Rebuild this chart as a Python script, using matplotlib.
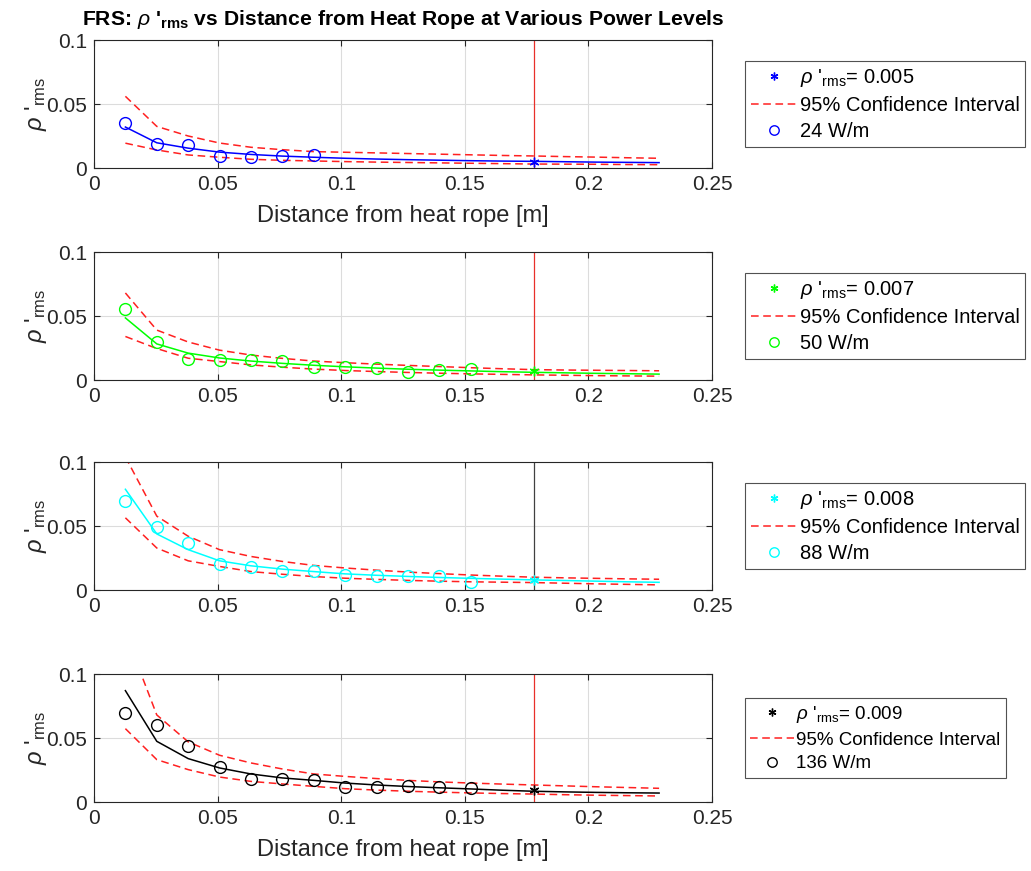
import matplotlib
matplotlib.use('Agg')
import matplotlib.pyplot as plt
import numpy as np

plt.rcParams['font.family'] = ['Liberation Sans', 'DejaVu Sans']
plt.rcParams['mathtext.fontset'] = 'custom'
plt.rcParams['mathtext.rm'] = 'Liberation Sans'
plt.rcParams['mathtext.it'] = 'Liberation Sans:italic'
plt.rcParams['mathtext.bf'] = 'Liberation Sans:bold'

# distance from heat rope [m], half-inch steps
x_fit = [0.0127 * k for k in range(1, 19)]
x_probe = 0.1778

powers = ['24 W/m', '50 W/m', '88 W/m', '136 W/m']
colors = ['#0000ff', '#00ff00', '#00ffff', '#000000']
vline_colors = ['#e8302a', '#e8302a', '#404040', '#e8302a']
rms_at_probe = [0.005, 0.007, 0.008, 0.009]

# measured rho'_rms (open circles)
meas_24 = [0.0353, 0.0186, 0.0178, 0.0095, 0.0084, 0.0097, 0.0105]
meas_50 = [0.0556, 0.0300, 0.0164, 0.0160, 0.0155, 0.0150, 0.0105, 0.0100,
           0.0093, 0.0063, 0.0076, 0.0088]
meas_88 = [0.0696, 0.0493, 0.0365, 0.0205, 0.0176, 0.0152, 0.0150, 0.0118,
           0.0113, 0.0113, 0.0110, 0.0066]
meas_136 = [0.0695, 0.0602, 0.0435, 0.0271, 0.0182, 0.0177, 0.0169, 0.0115,
            0.0120, 0.0128, 0.0115, 0.0107]

# fitted curves
fit_24 = [0.0320, 0.0197, 0.0155, 0.0124, 0.0106, 0.0093, 0.0084, 0.0076, 0.0070,
          0.0065, 0.0061, 0.0057, 0.0054, 0.0052, 0.0049, 0.0046, 0.0044, 0.0042]
fit_50 = [0.0485, 0.0282, 0.0210, 0.0172, 0.0148, 0.0130, 0.0115, 0.0103, 0.0093,
          0.0084, 0.0077, 0.0071, 0.0065, 0.0060, 0.0056, 0.0052, 0.0049, 0.0046]
fit_88 = [0.0787, 0.0438, 0.0315, 0.0228, 0.0189, 0.0163, 0.0144, 0.0126, 0.0115,
          0.0106, 0.0098, 0.0091, 0.0085, 0.0079, 0.0074, 0.0069, 0.0064, 0.0060]
fit_136 = [0.0870, 0.0474, 0.0339, 0.0266, 0.0219, 0.0188, 0.0169, 0.0148, 0.0133,
           0.0121, 0.0111, 0.0102, 0.0092, 0.0084, 0.0079, 0.0075, 0.0072, 0.0070]

# 95% confidence bounds
up_24 = [0.0560, 0.0325, 0.0250, 0.0195, 0.0162, 0.0143, 0.0128, 0.0123, 0.0118,
         0.0113, 0.0108, 0.0103, 0.0098, 0.0094, 0.0089, 0.0085, 0.0080, 0.0076]
lo_24 = [0.0194, 0.0141, 0.0102, 0.0084, 0.0068, 0.0060, 0.0055, 0.0050, 0.0046,
         0.0043, 0.0040, 0.0037, 0.0034, 0.0031, 0.0030, 0.0029, 0.0027, 0.0026]
up_50 = [0.0680, 0.0390, 0.0297, 0.0233, 0.0195, 0.0169, 0.0148, 0.0135, 0.0124,
         0.0114, 0.0105, 0.0096, 0.0088, 0.0081, 0.0078, 0.0076, 0.0074, 0.0072]
lo_50 = [0.0340, 0.0246, 0.0170, 0.0144, 0.0118, 0.0100, 0.0085, 0.0074, 0.0066,
         0.0059, 0.0053, 0.0048, 0.0044, 0.0040, 0.0037, 0.0034, 0.0032, 0.0030]
up_88 = [0.1040, 0.0577, 0.0420, 0.0315, 0.0262, 0.0223, 0.0192, 0.0172, 0.0155,
         0.0140, 0.0128, 0.0117, 0.0108, 0.0100, 0.0095, 0.0091, 0.0087, 0.0084]
lo_88 = [0.0564, 0.0328, 0.0228, 0.0184, 0.0144, 0.0123, 0.0105, 0.0092, 0.0083,
         0.0075, 0.0069, 0.0064, 0.0061, 0.0058, 0.0053, 0.0048, 0.0044, 0.0040]
up_136 = [0.1320, 0.0680, 0.0470, 0.0365, 0.0305, 0.0258, 0.0219, 0.0200, 0.0183,
          0.0169, 0.0157, 0.0148, 0.0140, 0.0133, 0.0126, 0.0119, 0.0113, 0.0107]
lo_136 = [0.0573, 0.0331, 0.0253, 0.0195, 0.0161, 0.0141, 0.0122, 0.0104, 0.0093,
          0.0084, 0.0077, 0.0071, 0.0066, 0.0062, 0.0057, 0.0053, 0.0050, 0.0047]

meas = [meas_24, meas_50, meas_88, meas_136]
fits = [fit_24, fit_50, fit_88, fit_136]
ups = [up_24, up_50, up_88, up_136]
los = [lo_24, lo_50, lo_88, lo_136]

fig = plt.figure(figsize=(10.31, 8.71), dpi=100)
W, H = 1031.0, 871.0
bottoms = [168, 380, 590, 802]
rho_lab = r"$\rho$ '$_{\mathregular{rms}}$"

for i in range(4):
    ax = fig.add_axes([94 / W, 1 - bottoms[i] / H, 618 / W, 128 / H])
    xm = x_fit[:len(meas[i])]
    ax.axvline(x_probe, color=vline_colors[i], lw=0.9, zorder=1)
    ax.plot(x_fit, fits[i], color=colors[i], lw=1.1, zorder=3)
    ax.plot(x_fit, ups[i], color='#ff2020', ls=(0, (5, 3)), lw=1.1, zorder=2,
            label='95% Confidence Interval')
    ax.plot(x_fit, los[i], color='#ff2020', ls=(0, (5, 3)), lw=1.1, zorder=2)
    ax.plot(xm, meas[i], ls='none', marker='o', mfc='none', mec=colors[i],
            ms=8.5, mew=1.0, zorder=4, label=powers[i])
    ax.plot([x_probe], [rms_at_probe[i]], ls='none', marker=(6, 2, 0),
            color=colors[i], ms=7, mew=1.0, zorder=5,
            label=r"$\rho$ '$_{\mathregular{rms}}$= %.3f" % rms_at_probe[i])

    ax.set_xlim(0, 0.25)
    ax.set_ylim(0, 0.1)
    ax.set_xticks(np.arange(0, 0.26, 0.05))
    ax.set_yticks([0, 0.05, 0.1])
    ax.set_xticklabels(['0', '0.05', '0.1', '0.15', '0.2', '0.25'])
    ax.set_yticklabels(['0', '0.05', '0.1'])
    ax.tick_params(direction='in', length=4, width=0.8, top=True, right=True,
                   labelsize=15, pad=5, color='#262626', labelcolor='#262626')
    ax.grid(True, color='#dcdcdc', lw=0.8)
    ax.set_axisbelow(True)
    for s in ax.spines.values():
        s.set_color('#262626')
        s.set_linewidth(0.8)
    ax.set_ylabel(rho_lab, fontsize=17, labelpad=-2, color='#262626')
    if i in (0, 3):
        ax.set_xlabel('Distance from heat rope [m]', fontsize=17, labelpad=8,
                      color='#262626')

    # legend order: probe value, confidence band, measurements
    h, l = ax.get_legend_handles_labels()
    order = [2, 0, 1]
    leg = ax.legend([h[j] for j in order], [l[j] for j in order],
                    loc='center left', bbox_to_anchor=(1.053, 0.5),
                    borderaxespad=0.0, markerscale=0.8,
                    fontsize=14.5 if i < 3 else 13.5, frameon=True, fancybox=False,
                    edgecolor='#262626', handlelength=2.3, handletextpad=0.12,
                    labelspacing=0.35, borderpad=0.3)
    leg.get_frame().set_linewidth(0.8)
    if i == 0:
        ax.set_title(r"FRS: $\rho$ '$_{\mathbf{rms}}$ vs Distance from Heat Rope at Various Power Levels",
                     fontsize=15.2, fontweight='bold', pad=10.5)

fig.savefig('out.png', dpi=100)
